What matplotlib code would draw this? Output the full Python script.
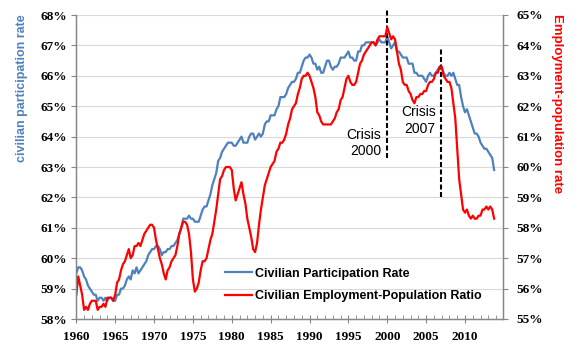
import matplotlib
matplotlib.use("Agg")
import matplotlib.pyplot as plt
import numpy as np
from matplotlib.ticker import FixedLocator, MultipleLocator

# quarterly readings, 1960Q1 .. 2013Q4
start_year = 1960
participation = [
    59.5, 59.7, 59.7, 59.6,  59.4, 59.3, 59.1, 59.0,  58.9, 58.8, 58.8, 58.6,
    58.7, 58.7, 58.6, 58.7,  58.6, 58.7, 58.7, 58.6,  58.6, 58.8, 58.8, 59.0,
    59.0, 59.1, 59.3, 59.4,  59.3, 59.6, 59.5, 59.7,  59.5, 59.6, 59.7, 59.8,
    59.9, 60.1, 60.2, 60.3,  60.3, 60.4, 60.4, 60.3,  60.1, 60.2, 60.2, 60.3,
    60.3, 60.4, 60.4, 60.5,  60.6, 60.8, 61.0, 61.3,  61.3, 61.3, 61.4, 61.3,
    61.3, 61.2, 61.2, 61.2,  61.4, 61.6, 61.7, 61.7,  61.9, 62.1, 62.4, 62.6,
    62.8, 63.2, 63.3, 63.5,  63.6, 63.7, 63.8, 63.8,  63.8, 63.7, 63.7, 63.8,
    63.9, 64.0, 63.8, 63.8,  63.8, 64.0, 64.1, 64.1,  63.9, 64.0, 64.1, 64.0,
    64.1, 64.4, 64.5, 64.5,  64.7, 64.7, 64.7, 64.9,  65.0, 65.3, 65.3, 65.3,
    65.4, 65.6, 65.7, 65.8,  65.8, 65.9, 66.1, 66.1,  66.3, 66.5, 66.6, 66.6,
    66.7, 66.6, 66.4, 66.4,  66.2, 66.3, 66.1, 66.1,  66.3, 66.5, 66.5, 66.3,
    66.2, 66.3, 66.3, 66.4,  66.6, 66.6, 66.6, 66.7,  66.8, 66.6, 66.6, 66.5,
    66.5, 66.8, 66.8, 67.0,  67.0, 67.1, 67.1, 67.1,  67.1, 67.1, 67.0, 67.1,
    67.2, 67.1, 67.1, 67.1,  67.3, 67.1, 66.9, 67.0,  67.1, 66.8, 66.8, 66.7,
    66.6, 66.6, 66.6, 66.4,  66.4, 66.4, 66.1, 66.1,  66.0, 66.0, 66.0, 65.9,
    65.8, 66.0, 66.1, 66.0,  66.0, 66.1, 66.2, 66.3,  66.3, 66.1, 66.0, 66.0,
    66.1, 66.0, 66.1, 65.9,  65.7, 65.7, 65.3, 65.0,  64.8, 64.9, 64.7, 64.5,
    64.3, 64.1, 64.1, 64.0,  63.8, 63.7, 63.6, 63.6,  63.5, 63.4, 63.3, 62.9,
]
employment = [
    55.8, 56.4, 56.1, 55.8,  55.3, 55.4, 55.3, 55.5,  55.6, 55.6, 55.6, 55.3,
    55.4, 55.4, 55.5, 55.4,  55.7, 55.7, 55.7, 55.6,  55.8, 56.2, 56.3, 56.6,
    56.8, 56.9, 57.1, 57.3,  57.0, 57.1, 57.4, 57.4,  57.5, 57.4, 57.6, 57.8,
    57.9, 58.0, 58.1, 58.1,  58.0, 57.6, 57.3, 57.0,  56.8, 56.5, 56.3, 56.6,
    56.7, 56.9, 57.0, 57.1,  57.4, 57.8, 58.0, 58.2,  58.2, 58.1, 57.8, 57.2,
    56.3, 55.9, 56.0, 56.2,  56.6, 56.9, 56.9, 57.0,  57.3, 57.6, 57.8, 58.2,
    58.6, 59.1, 59.6, 59.7,  59.9, 60.0, 60.0, 60.0,  59.9, 59.3, 58.9, 59.1,
    59.3, 59.5, 59.1, 58.8,  58.3, 58.0, 57.7, 57.3,  57.2, 57.5, 58.1, 58.6,
    59.0, 59.4, 59.6, 59.8,  60.0, 60.1, 60.2, 60.5,  60.6, 60.8, 60.8, 60.9,
    61.1, 61.4, 61.6, 61.9,  62.0, 62.1, 62.4, 62.6,  62.9, 63.0, 63.0, 63.1,
    63.0, 62.8, 62.6, 62.3,  61.8, 61.7, 61.5, 61.4,  61.4, 61.4, 61.4, 61.4,
    61.5, 61.6, 61.8, 61.9,  62.2, 62.3, 62.6, 62.9,  63.0, 62.8, 62.7, 62.7,
    62.8, 63.1, 63.4, 63.5,  63.7, 63.8, 63.9, 64.0,  64.1, 64.1, 64.0, 64.2,
    64.3, 64.3, 64.3, 64.3,  64.6, 64.4, 64.2, 64.3,  64.2, 63.8, 63.4, 63.2,
    62.8, 62.7, 62.7, 62.5,  62.4, 62.2, 62.1, 62.3,  62.3, 62.4, 62.4, 62.5,
    62.5, 62.7, 62.8, 62.8,  62.9, 63.1, 63.1, 63.3,  63.3, 63.0, 62.9, 62.8,
    62.8, 62.6, 62.1, 61.6,  60.6, 59.6, 59.1, 58.6,  58.5, 58.6, 58.4, 58.3,
    58.4, 58.3, 58.3, 58.4,  58.4, 58.6, 58.6, 58.7,  58.6, 58.7, 58.6, 58.3,
]
left_ticks = [58, 59, 60, 61, 62, 63, 64, 65, 66, 67, 68]
right_ticks = [55, 56, 57, 58, 59, 60, 61, 62, 63, 64, 65]
year_ticks = [1960, 1965, 1970, 1975, 1980, 1985, 1990, 1995, 2000, 2005, 2010]

crisis_x = [2000.0, 2006.9]
crisis_top = [68.16, 66.87]
crisis_bottom = [63.3, 62.0]
crisis_labels = ["Crisis\n2000", "Crisis\n2007"]
crisis_label_x = [1999.2, 2006.25]
crisis_label_y = [63.8, 64.53]

BLUE = "#4F81BD"
RED = "#FF0000"
GRAY = "#868686"

t = start_year + np.arange(len(participation)) / 4.0

fig = plt.figure(figsize=(5.82, 3.64), dpi=100)
ax = fig.add_axes([76.3 / 582, 1 - 319 / 364, (502.7 - 76.3) / 582, 304 / 364])
ax2 = ax.twinx()

ax.plot(t, participation, color=BLUE, lw=1.6, label="Civilian Participation Rate")
ax2.plot(t, employment, color=RED, lw=1.6, label="Civilian Employment-Population Ratio")

ax.set_xlim(1960, 2014.85)
ax.set_ylim(58, 68)
ax2.set_ylim(55, 65)

ax.yaxis.set_major_locator(FixedLocator(left_ticks))
ax2.yaxis.set_major_locator(FixedLocator(right_ticks))
ax.set_yticklabels([f"{v}%" for v in left_ticks])
ax2.set_yticklabels([f"{v}%" for v in right_ticks])
ax.xaxis.set_major_locator(FixedLocator(year_ticks))
ax.xaxis.set_minor_locator(MultipleLocator(1))
ax.set_xticklabels([str(y) for y in year_ticks])

ax.grid(axis="y", color="#D9D9D9", lw=0.8)
ax.set_axisbelow(True)

for a in (ax, ax2):
    a.spines["top"].set_visible(False)
    for s in ("left", "right", "bottom"):
        a.spines[s].set_color(GRAY)
        a.spines[s].set_linewidth(0.9)

tick_font = dict(family="Liberation Serif", weight="bold", size=9.5)
ax.tick_params(axis="y", direction="out", length=3.6, color=GRAY, pad=3)
ax2.tick_params(axis="y", direction="out", length=3.6, color=GRAY, pad=6)
ax.tick_params(axis="x", which="major", direction="inout", length=5.8, color=GRAY, pad=6)
ax.tick_params(axis="x", which="minor", direction="in", length=2.9, color=GRAY)
for lab in ax.get_xticklabels() + ax.get_yticklabels() + ax2.get_yticklabels():
    lab.set_fontproperties(tick_font)

# crisis markers
ax.vlines(crisis_x, crisis_bottom, crisis_top, colors="black", lw=1.5,
          linestyles=(0, (2.4, 1.2)), clip_on=False, zorder=5)
for lx, ly, txt in zip(crisis_label_x, crisis_label_y, crisis_labels):
    ax.text(lx, ly, txt, ha="right", va="center", multialignment="right",
            fontsize=10, family="Liberation Sans", color="black", zorder=6)

h1, l1 = ax.get_legend_handles_labels()
h2, l2 = ax2.get_legend_handles_labels()
ax2.legend(h1 + h2, l1 + l2, loc="center left",
           bbox_to_anchor=(219 / 582, 1 - 285 / 364), bbox_transform=fig.transFigure,
           frameon=False, borderpad=0, handlelength=2.1, handletextpad=0.3,
           labelspacing=0.85, prop=dict(family="Liberation Sans", weight="bold", size=9))

fig.text(22 / 582, 1 - 88 / 364, "civilian participation rate", rotation=90,
         ha="center", va="center", color=BLUE, fontsize=9, fontweight="bold",
         family="Liberation Sans")
fig.text(557 / 582, 1 - 104 / 364, "Employment-population rate", rotation=270,
         ha="center", va="center", color=RED, fontsize=9.5, fontweight="bold",
         family="Liberation Sans")

fig.savefig("out.png", dpi=100)
plt.close(fig)
